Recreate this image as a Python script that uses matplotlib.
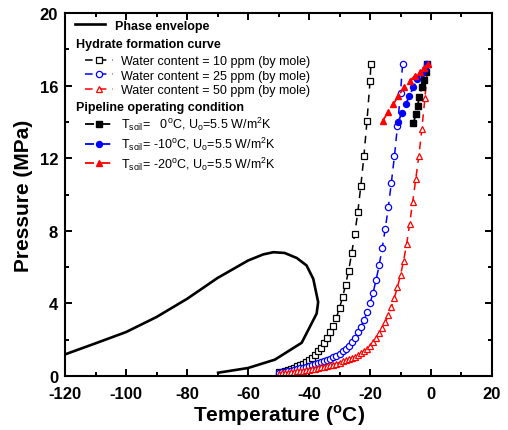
import matplotlib
matplotlib.use('Agg')
import matplotlib.pyplot as plt

plt.rcParams['font.family'] = ['Liberation Sans', 'DejaVu Sans']
plt.rcParams['mathtext.fontset'] = 'custom'
plt.rcParams['mathtext.rm'] = 'Liberation Sans'
plt.rcParams['mathtext.bf'] = 'Liberation Sans:bold'
plt.rcParams['axes.unicode_minus'] = False

# Phase envelope
env_T = [-120, -110, -100, -90, -80, -70, -60, -55, -51.7, -48, -44, -40.8, -38.6, -37,
         -37.5, -42.4, -51.2, -60, -69.8]
env_P = [1.19, 1.80, 2.42, 3.25, 4.25, 5.40, 6.36, 6.70, 6.82, 6.78, 6.50, 6.09, 5.35, 4.07,
         3.44, 1.83, 0.90, 0.44, 0.18]

# Hydrate formation curves
h10_T = [-50, -49, -48, -47, -46, -45, -44, -43, -42, -41, -40, -39, -38, -37, -36, -35,
         -34, -33, -32, -31, -30, -29, -28, -27, -26, -25, -24, -23, -22, -21, -20, -19.7]
h10_P = [0.20, 0.24, 0.27, 0.32, 0.38, 0.45, 0.53, 0.60, 0.68, 0.78, 0.88, 1.01, 1.17, 1.35,
         1.56, 1.81, 2.09, 2.42, 2.78, 3.22, 3.76, 4.33, 5.04, 5.81, 6.77, 7.83, 9.03, 10.49,
         12.11, 14.03, 16.24, 17.2]

h25_T = [-50, -49, -48, -47, -46, -45, -44, -43, -42, -41, -40, -39, -38, -37, -36, -35,
         -34, -33, -32, -31, -30, -29, -28, -27, -26, -25, -24, -23, -22, -21, -20, -19,
         -18, -17, -16, -15, -14, -13, -12, -11, -10, -9.3]
h25_P = [0.18, 0.20, 0.23, 0.26, 0.30, 0.34, 0.38, 0.42, 0.46, 0.50, 0.55, 0.60, 0.65, 0.70,
         0.76, 0.82, 0.88, 0.95, 1.03, 1.12, 1.22, 1.35, 1.50, 1.68, 1.88, 2.12, 2.40, 2.70,
         3.07, 3.50, 4.00, 4.58, 5.30, 6.10, 7.05, 8.10, 9.30, 10.65, 12.10, 13.75, 15.60, 17.2]

h50_T = [-50, -49, -48, -47, -46, -45, -44, -43, -42, -41, -40, -39, -38, -37, -36, -35,
         -34, -33, -32, -31, -30, -29, -28, -27, -26, -25, -24, -23, -22, -21, -20, -19,
         -18, -17, -16, -15, -14, -13, -12, -11, -10, -9, -8, -7, -6, -5, -4, -3, -2, -1]
h50_P = [0.13, 0.15, 0.17, 0.19, 0.21, 0.23, 0.25, 0.27, 0.29, 0.32, 0.34, 0.37, 0.40, 0.43,
         0.47, 0.50, 0.54, 0.59, 0.63, 0.68, 0.74, 0.80, 0.86, 0.93, 1.00, 1.07, 1.15, 1.24,
         1.35, 1.49, 1.68, 1.87, 2.09, 2.35, 2.62, 2.95, 3.36, 3.80, 4.32, 4.90, 5.55, 6.35,
         7.25, 8.40, 9.60, 10.85, 12.10, 13.60, 15.30, 17.2]

# Pipeline operating conditions
p0_T = [-5.8, -4.9, -4.4, -3.8, -3.05, -2.3, -1.65, -1.2]
p0_P = [13.94, 14.44, 14.90, 15.36, 15.90, 16.33, 16.76, 17.19]
p10_T = [-10.7, -9.6, -8.2, -7.1, -5.8, -4.5, -3.05, -2.0, -1.2]
p10_P = [14.01, 14.49, 14.99, 15.44, 15.90, 16.36, 16.70, 16.90, 17.19]
p20_T = [-15.8, -14.0, -12.3, -10.7, -8.75, -6.9, -5.25, -3.6, -2.2, -0.9]
p20_P = [14.07, 14.56, 14.99, 15.44, 15.90, 16.27, 16.54, 16.76, 16.97, 17.19]

x_ticks = [-120, -100, -80, -60, -40, -20, 0, 20]
y_ticks = [0, 4, 8, 12, 16, 20]

fig = plt.figure(figsize=(5.08, 4.31), dpi=100)
ax = fig.add_axes([0.128, 0.1253, 0.8405, 0.8422])

dash = (0, (5, 4))
env, = ax.plot(env_T, env_P, color='black', lw=1.9)
l10, = ax.plot(h10_T, h10_P, color='black', ls=dash, lw=1.1, marker='s', ms=4.2, mfc='white', mec='black', mew=0.9)
l25, = ax.plot(h25_T, h25_P, color='blue', ls=dash, lw=1.1, marker='o', ms=4.5, mfc='white', mec='blue', mew=0.9)
l50, = ax.plot(h50_T, h50_P, color='red', ls=dash, lw=1.1, marker='^', ms=5, mfc='white', mec='red', mew=0.9)
q0, = ax.plot(p0_T, p0_P, color='black', ls=dash, lw=1.3, marker='s', ms=4)
q10, = ax.plot(p10_T, p10_P, color='blue', ls=dash, lw=1.3, marker='o', ms=4.3)
q20, = ax.plot(p20_T, p20_P, color='red', ls=dash, lw=1.3, marker='^', ms=4.8)

ax.set_xlim(-120, 20)
ax.set_ylim(0, 20)
ax.set_xticks(x_ticks)
ax.set_yticks(y_ticks)
ax.set_xticks(range(-120, 21, 10), minor=True)
ax.set_yticks(range(0, 21, 2), minor=True)
ax.tick_params(which='both', direction='in', top=True, right=True, width=1.4)
ax.tick_params(which='major', length=5, labelsize=12)
ax.tick_params(which='minor', length=3)
ax.tick_params(axis='x', which='major', pad=7)
ax.tick_params(axis='y', which='major', pad=5)
for lab in ax.get_xticklabels() + ax.get_yticklabels():
    lab.set_fontweight('bold')
for sp in ax.spines.values():
    sp.set_linewidth(1.5)

ax.set_xlabel(r'Temperature ($^{\mathbf{o}}$C)', fontsize=15, fontweight='bold', labelpad=1)
ax.set_ylabel('Pressure (MPa)', fontsize=15, fontweight='bold', labelpad=5)

fs = 9
legA = ax.legend([env], ['Phase envelope'], loc='upper left', bbox_to_anchor=(0.023, 0.982),
                 frameon=False, fontsize=fs, borderpad=0, borderaxespad=0,
                 handlelength=2.4, handletextpad=0.8)
legA.get_texts()[0].set_fontweight('bold')
ax.add_artist(legA)

legB = ax.legend([l10, l25, l50],
                 ['Water content = 10 ppm (by mole)', 'Water content = 25 ppm (by mole)',
                  'Water content = 50 ppm (by mole)'],
                 loc='upper left', bbox_to_anchor=(0.047, 0.884), frameon=False, fontsize=fs,
                 borderpad=0, borderaxespad=0, handlelength=2.2, handletextpad=0.7,
                 labelspacing=0.2, numpoints=1)
ax.add_artist(legB)

legC = ax.legend([q0, q10, q20],
                 [r'T$_{\mathregular{soil}}$=   0$^{\mathregular{o}}$C, U$_{\mathregular{o}}$=5.5 W/m$^{\mathregular{2}}$K',
                  r'T$_{\mathregular{soil}}$= -10$^{\mathregular{o}}$C, U$_{\mathregular{o}}$=5.5 W/m$^{\mathregular{2}}$K',
                  r'T$_{\mathregular{soil}}$= -20$^{\mathregular{o}}$C, U$_{\mathregular{o}}$=5.5 W/m$^{\mathregular{2}}$K'],
                 loc='upper left', bbox_to_anchor=(0.047, 0.719), frameon=False, fontsize=fs,
                 borderpad=0, borderaxespad=0, handlelength=2.2, handletextpad=0.7,
                 labelspacing=0.2, numpoints=1)

ax.text(0.026, 0.914, 'Hydrate formation curve', transform=ax.transAxes, fontsize=fs,
        fontweight='bold', va='center', ha='left')
ax.text(0.026, 0.742, 'Pipeline operating condition', transform=ax.transAxes, fontsize=fs,
        fontweight='bold', va='center', ha='left')

fig.savefig('out.png', dpi=100)
